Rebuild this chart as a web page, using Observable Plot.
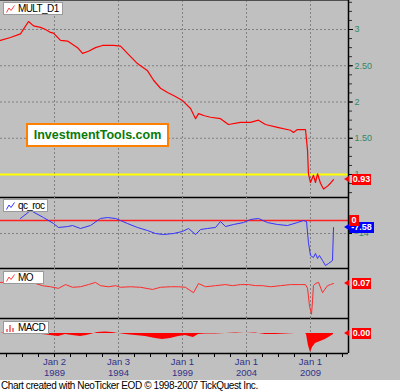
<!DOCTYPE html>
<html><head><meta charset="utf-8">
<script src="https://cdn.jsdelivr.net/npm/d3@7"></script>
<script src="https://cdn.jsdelivr.net/npm/@observablehq/plot@0.6"></script>
<style>
body{margin:0;background:#fff;}
#chart{position:relative;width:400px;height:391px;background:#c0c0c0;overflow:hidden;font-family:"Liberation Sans",Arial,sans-serif;}
.legend{position:absolute;left:3px;height:11px;background:#fff;border:1px solid #9a9a9a;font-size:10px;line-height:11px;padding:0 3px 0 2px;display:flex;align-items:center;gap:3px;color:#000;letter-spacing:-0.6px;white-space:nowrap;}
.legend svg{display:block}
.val{position:absolute;height:11px;line-height:11px;color:#fff;font-weight:bold;font-size:9px;text-align:center;white-space:nowrap;}
.arrow{position:absolute;width:0;height:0;border-top:3px solid transparent;border-bottom:3px solid transparent;}
.brand{position:absolute;left:26px;top:123px;width:139px;height:20px;background:#fff;border:2px solid #ff8000;color:#0a7a0a;font-weight:bold;font-size:12.5px;line-height:20px;text-align:center;}
.caption{position:absolute;left:0;top:380px;width:400px;height:11px;background:#fff;font-size:10px;line-height:11px;color:#000;white-space:nowrap;padding-left:1px;letter-spacing:-0.4px;}
</style></head>
<body><div id="chart"></div>
<script>
// ---- data (x in decimal years) ----
const xDomain = [1984.78, 2011.97];
const xTickYears = [1989.0, 1994.0, 1999.0, 2004.0, 2009.0];
const xTickLabels = ["Jan 2\n1989", "Jan 3\n1994", "Jan 1\n1999", "Jan 1\n2004", "Jan 1\n2009"];

const multYears = [1984.78,1985.56,1986.34,1986.97,1987.36,1987.91,1988.30,1988.69,1988.92,1989.47,1990.02,1990.80,1991.19,1991.66,1992.20,1992.75,1993.61,1994.16,1994.70,1995.48,1996.27,1996.74,1997.28,1997.83,1998.30,1999.00,1999.63,2000.02,2000.25,2000.72,2001.19,2001.97,2002.59,2003.53,2004.31,2004.94,2005.48,2006.42,2007.44,2007.67,2007.98,2008.61,2008.77,2008.84,2009.00,2009.23,2009.39,2009.55,2009.78,2010.02,2010.33,2010.56,2010.80];
const multValues = [2.85,2.89,2.94,3.11,3.05,3.03,3.00,2.96,2.95,2.85,2.84,2.75,2.67,2.70,2.75,2.78,2.78,2.77,2.67,2.53,2.43,2.30,2.19,2.13,2.09,2.02,1.91,1.77,1.84,1.81,1.79,1.77,1.69,1.72,1.72,1.75,1.69,1.65,1.61,1.58,1.62,1.62,1.33,1.01,0.89,0.99,0.89,1.01,0.88,0.80,0.84,0.88,0.93];
const multRef = 1.0;
const multTicks = [1, 1.5, 2, 2.5, 3];
const multTickLabels = ["1", "1.50", "2", "2.50", "3"];

const rocYears = [1986.34,1987.13,1988.14,1988.92,1989.31,1990.02,1990.41,1991.03,1991.81,1992.59,1993.14,1993.77,1994.16,1994.70,1995.48,1996.27,1996.89,1997.52,1998.30,1999.00,1999.47,2000.02,2000.41,2000.95,2001.58,2001.97,2002.36,2002.98,2003.77,2004.31,2004.94,2005.64,2006.42,2007.20,2007.98,2008.45,2008.69,2008.84,2009.00,2009.23,2009.39,2009.55,2009.70,2009.94,2010.17,2010.41,2010.72,2010.80];
const rocValues = [2.2,10.8,3.2,-3.2,-7.5,-6.5,-5.4,-8.6,-5.4,2.2,3.2,2.2,0,-3.2,-7.5,-10.8,-14,-15.1,-14,-11.8,-8.6,-15.1,-9.7,-8.6,-7.5,-1.1,-6.5,-4.3,-2.2,1.1,2.2,-2.2,-4.3,-5.4,-2.2,0,-1.1,-23.7,-37.7,-39.8,-35.5,-40.9,-37.7,-43.1,-48.5,-46.3,-43.1,-7.58];
const rocGrid = [-14];

const moYears = [1984.78,1985.56,1986.34,1987.13,1987.52,1988.06,1988.69,1989.31,1989.86,1990.41,1991.03,1991.66,1992.20,1992.59,1993.22,1993.77,1994.16,1994.94,1995.72,1996.66,1997.28,1998.06,1998.69,1999.23,1999.86,2000.25,2000.80,2001.58,2002.36,2002.91,2003.53,2004.16,2004.70,2005.25,2005.88,2006.66,2007.44,2008.22,2008.61,2008.77,2008.92,2009.08,2009.16,2009.23,2009.39,2009.63,2009.94,2010.33,2010.56,2010.80];
const moValues = [0.09,0.09,0.09,0.11,0.07,0.03,0.01,-0.02,0.05,0.00,0.01,0.05,0.09,0.03,0.01,0.03,0.00,0.01,0.00,-0.04,0.00,0.01,0.01,0.00,-0.10,0.07,0.01,0.03,0.05,0.03,0.05,0.05,0.03,0.03,0.01,0.03,0.05,0.05,0.05,-0.02,-0.34,-0.50,-0.25,0.03,0.07,0.09,-0.10,0.03,0.05,0.07];

const macdYears = [1984.78,1985.56,1986.34,1987.13,1987.75,1988.06,1988.69,1989.31,1989.86,1990.41,1991.03,1991.50,1991.97,1992.36,1992.98,1993.53,1994.00,1994.55,1995.33,1996.11,1996.89,1997.44,1998.06,1998.69,1999.23,1999.86,2000.25,2000.80,2001.58,2002.36,2003.14,2003.92,2004.70,2005.48,2006.27,2007.05,2007.83,2008.61,2008.69,2008.77,2008.84,2009.00,2009.16,2009.39,2009.78,2010.17,2010.56,2010.80];
const macdValues = [0,0.015,0.02,0.02,0,-0.01,-0.02,-0.03,-0.01,-0.02,-0.03,-0.02,-0.005,0.01,0.015,0.01,0,-0.01,-0.02,-0.03,-0.05,-0.06,-0.05,-0.03,-0.02,-0.04,-0.01,-0.005,-0.005,0,0.005,0,0.005,-0.01,-0.01,-0.005,0,0,-0.01,-0.07,-0.12,-0.19,-0.14,-0.10,-0.08,-0.06,-0.03,-0.01];

// ---- helpers ----
const rows = (xs, ys) => xs.map((x, i) => ({x, y: ys[i]}));
const chart = document.getElementById("chart");
const GRID = {stroke: "#808080", strokeOpacity: 1, strokeDasharray: "2,2"};
const xMinor = d3.range(1985.25, 2011.9, 1.25);

function panel(top, height, yDomain, marks, marginBottom = 0) {
  const p = Plot.plot({
    width: 400, height: height + marginBottom,
    marginLeft: 0, marginRight: 52, marginTop: 0, marginBottom,
    x: {domain: xDomain, axis: null},
    y: {domain: yDomain, axis: null},
    style: {background: "transparent", overflow: "visible", fontFamily: "'Liberation Sans', Arial, sans-serif"},
    marks: [
      Plot.gridX(xTickYears, GRID),
      ...marks,
      Plot.ruleY([yDomain[0]], {stroke: "#000", strokeWidth: 1.5}),
      Plot.ruleX([xDomain[1]], {stroke: "#000", strokeWidth: 1.5})
    ]
  });
  p.style.position = "absolute";
  p.style.left = "0px";
  p.style.top = top + "px";
  chart.appendChild(p);
  return p;
}

function valueBox(p, top, value, text, color, o = {}) {
  const y = top + p.scale("y").apply(value);
  const x = p.scale("x").apply(xDomain[1]);
  if (o.arrow !== false) {
    const a = document.createElement("div");
    a.className = "arrow";
    a.style.borderRight = "5px solid " + color;
    a.style.left = (x - 4) + "px";
    a.style.top = (y - 3) + "px";
    chart.appendChild(a);
  }
  const b = document.createElement("div");
  b.className = "val";
  b.textContent = text;
  b.style.background = color;
  b.style.left = (x + (o.dx ?? 4)) + "px";
  b.style.width = (o.w ?? 19) + "px";
  b.style.top = (y - 5.5) + "px";
  chart.appendChild(b);
}

function legend(top, text, icon, minW) {
  const d = document.createElement("div");
  d.className = "legend";
  d.style.top = top + "px";
  if (minW) d.style.minWidth = minW + "px";
  d.innerHTML = icon + "<span>" + text + "</span>";
  chart.appendChild(d);
}
const lineIcon = c => `<svg width="9" height="8"><polyline points="0.5,7.5 3,3 5,5.5 8.5,0.5" fill="none" stroke="${c}" stroke-width="1"/></svg>`;
const barIcon = `<svg width="9" height="8"><rect x="0" y="5" width="2" height="3" fill="#f08080"/><rect x="3" y="1" width="2" height="7" fill="#f08080"/><rect x="6" y="4" width="2" height="4" fill="#f08080"/></svg>`;

// ---- panel 1: MULT_D1 ----
const yd1 = [0.683, 3.4];
const p1 = panel(0, 197, yd1, [
  Plot.gridY([1.5, 2, 2.5, 3], GRID),
  Plot.ruleY([yd1[1]], {stroke: "#505050", strokeWidth: 1}),
  Plot.ruleY([multRef], {stroke: "#ffff00", strokeWidth: 2}),
  Plot.line(rows(multYears, multValues), {x: "x", y: "y", stroke: "#ff0000", strokeWidth: 1.2}),
  Plot.axisY(d3.range(0.75, 3.4, 0.125), {anchor: "right", tickSize: 3, tickFormat: () => "", label: null, stroke: "#303030"}),
  Plot.axisY(multTicks, {anchor: "right", tickSize: 4, tickPadding: 2, label: null, fill: "#338866", fontSize: 9,
    tickFormat: d => multTickLabels[multTicks.indexOf(d)]})
]);

// ---- panel 2: qc_roc ----
const yd2 = [-51.7, 24.8];
const p2 = panel(197, 71, yd2, [
  Plot.gridY(rocGrid, GRID),
  Plot.axisY(rocGrid, {anchor: "right", tickSize: 3, tickPadding: 2, label: null, fill: "#338866", fontSize: 9}),
  Plot.ruleY([0], {stroke: "#ff2020", strokeWidth: 1.5}),
  Plot.line(rows(rocYears, rocValues), {x: "x", y: "y", stroke: "#3333ff", strokeWidth: 1})
]);

// ---- panel 3: MO ----
const yd3 = [-0.578, 0.348];
const p3 = panel(268, 50, yd3, [
  Plot.line(rows(moYears, moValues), {x: "x", y: "y", stroke: "#ff2a2a", strokeWidth: 1})
]);

// ---- panel 4: MACD ----
const yd4 = [-0.20, 0.15];
const p4 = panel(318, 35, yd4, [
  Plot.areaY(rows(macdYears, macdValues), {x: "x", y: "y", fill: "#ff0000"}),
  Plot.axisX(xMinor, {anchor: "bottom", tickSize: 4, tickFormat: () => "", label: null}),
  Plot.axisX(xTickYears, {anchor: "bottom", tickSize: 4, tickPadding: 0, label: null, fill: "#333388", fontSize: 9.5, lineHeight: 1.15,
    tickFormat: d => xTickLabels[xTickYears.indexOf(d)]})
], 27);

// ---- overlays ----
legend(2, "MULT_D1", lineIcon("#ff4040"));
legend(199, "qc_roc", lineIcon("#3333ff"), 36);
legend(271, "MO", lineIcon("#ff4040"), 34);
legend(321, "MACD", barIcon, 36);

const brand = document.createElement("div");
brand.className = "brand";
brand.textContent = "InvestmentTools.com";
chart.appendChild(brand);

valueBox(p1, 0, multValues[multValues.length - 1], "0.93", "#ff0000");
valueBox(p2, 197, rocValues[rocValues.length - 1], "-7.58", "#0000ff", {dx: 1, w: 25});
valueBox(p2, 197, 0, "0", "#ff0000", {arrow: false, dx: 1, w: 10});
valueBox(p3, 268, moValues[moValues.length - 1], "0.07", "#ff0000");
valueBox(p4, 318, 0, "0.00", "#ff0000");

const cap = document.createElement("div");
cap.className = "caption";
cap.textContent = "Chart created with NeoTicker EOD © 1998-2007 TickQuest Inc.";
chart.appendChild(cap);
</script>
</body></html>
